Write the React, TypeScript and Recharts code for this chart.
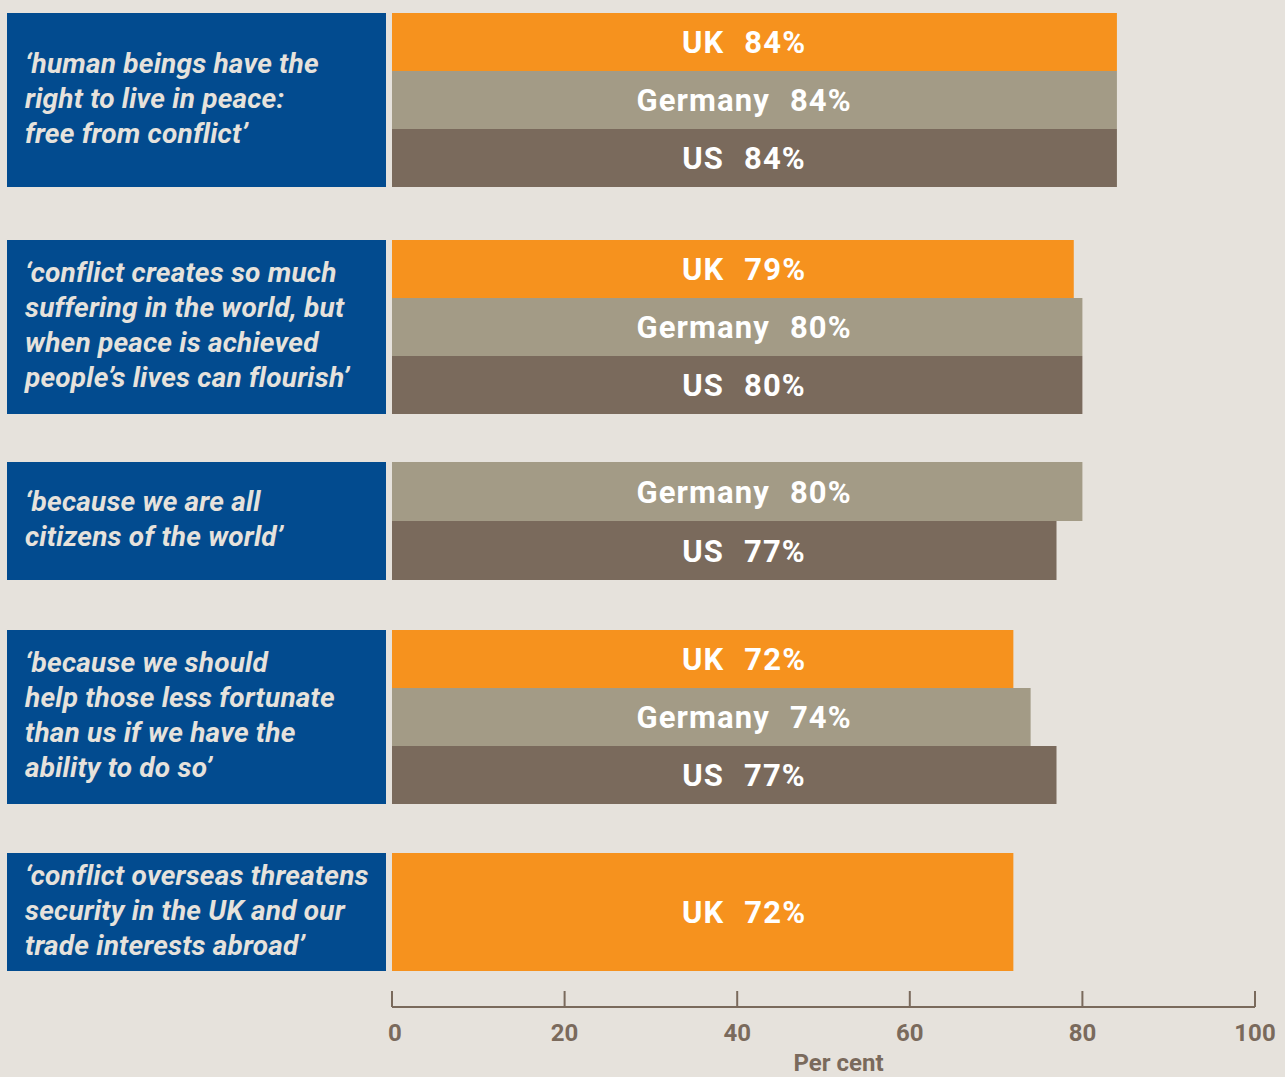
import React from "react";
import { Bar, BarChart, Cell, LabelList, XAxis, YAxis } from "recharts";

const statements = [
  "\u2018human beings have the\nright to live in peace:\nfree from conflict\u2019",
  "\u2018conflict creates so much\nsuffering in the world, but\nwhen peace is achieved\npeople\u2019s lives can flourish\u2019",
  "\u2018because we are all\ncitizens of the world\u2019",
  "\u2018because we should\nhelp those less fortunate\nthan us if we have the\nability to do so\u2019",
  "\u2018conflict overseas threatens\nsecurity in the UK and our\ntrade interests abroad\u2019",
];

const countries = ["UK", "Germany", "US"];
const ukValues = [84, 79, null, 72, 72];
const germanyValues = [84, 80, 80, 74, null];
const usValues = [84, 80, 77, 77, null];
const axisTicks = [0, 20, 40, 60, 80, 100];

const COLORS: Record<string, string> = {
  UK: "#f6921e",
  Germany: "#a39b86",
  US: "#7a6a5c",
};

const BG = "#e6e2dc";
const BLUE = "#024b8f";
const AXIS = "#7a6a5c";
const GROUP_TOPS = [13, 240, 462, 630, 853];
const CHART_W = 893;
const PLOT_RIGHT = 30;
const PLOT_W = CHART_W - PLOT_RIGHT;
const LABEL_AT = 40.8; // labels sit at a fixed spot on the scale
const FONT = "Roboto, 'DejaVu Sans', sans-serif";

const groups = statements.map((text, i) => {
  const series = [ukValues[i], germanyValues[i], usValues[i]];
  const rows = countries
    .map((c, j) => ({ name: c, value: series[j] }))
    .filter((r) => r.value !== null);
  return { text, rows };
});

const BarLabel = (props: any) => {
  const { x, y, height, index, data } = props;
  const row = data[index];
  const cx = x + (LABEL_AT / 100) * PLOT_W;
  return (
    <text
      x={cx}
      y={y + height / 2}
      textAnchor="middle"
      dominantBaseline="central"
      fill="#ffffff"
      fontFamily={FONT}
      fontWeight={700}
      fontSize={31}
      letterSpacing={1.1}
    >
      <tspan>{row.name}</tspan>
      <tspan dx={20}>{row.value}%</tspan>
    </text>
  );
};

const AxisTick = (props: any) => {
  const { x, y, payload } = props;
  return (
    <g>
      <line x1={x} x2={x} y1={y - 16} y2={y} stroke={AXIS} strokeWidth={2} />
      <text
        x={x + (payload.value === 0 ? 3 : 0)}
        y={y + 26}
        textAnchor="middle"
        dominantBaseline="central"
        fill={AXIS}
        fontFamily={FONT}
        fontWeight={700}
        fontSize={24}
      >
        {payload.value}
      </text>
    </g>
  );
};

const Group: React.FC<{ text: string; rows: { name: string; value: number | null }[]; top: number }> = ({
  text,
  rows,
  top,
}) => {
  const boxH = rows.length >= 3 ? 174 : 118;
  return (
    <div style={{ position: "absolute", left: 0, top, display: "flex", height: boxH }}>
      <div
        style={{
          marginLeft: 7,
          width: 379,
          height: boxH,
          background: BLUE,
          color: BG,
          fontFamily: FONT,
          fontStyle: "italic",
          fontWeight: 700,
          fontSize: 28,
          lineHeight: "35px",
          letterSpacing: 0.2,
          whiteSpace: "pre",
          display: "flex",
          alignItems: "center",
          paddingLeft: 18,
          paddingBottom: 4,
          boxSizing: "border-box",
        }}
      >
        {text}
      </div>
      <div style={{ marginLeft: 6 }}>
        <BarChart
          width={CHART_W}
          height={boxH}
          data={rows}
          layout="vertical"
          margin={{ top: 0, right: PLOT_RIGHT, bottom: 0, left: 0 }}
          barCategoryGap={0}
        >
          <XAxis type="number" domain={[0, 100]} hide />
          <YAxis type="category" dataKey="name" hide />
          <Bar dataKey="value" isAnimationActive={false}>
            {rows.map((r) => (
              <Cell key={r.name} fill={COLORS[r.name]} />
            ))}
            <LabelList dataKey="value" content={(p: any) => <BarLabel {...p} data={rows} />} />
          </Bar>
        </BarChart>
      </div>
    </div>
  );
};

export default function App() {
  return (
    <div
      style={{
        position: "absolute",
        left: 0,
        top: 0,
        width: 1285,
        height: 1077,
        background: BG,
        overflow: "hidden",
      }}
    >
      {groups.map((g, i) => (
        <Group key={i} text={g.text} rows={g.rows} top={GROUP_TOPS[i]} />
      ))}
      <div style={{ position: "absolute", left: 372, top: 971 }}>
        <BarChart
          width={CHART_W + 20}
          height={106}
          data={[{ name: "", value: 0 }]}
          layout="vertical"
          margin={{ top: 0, right: PLOT_RIGHT, bottom: 0, left: 20 }}
        >
          <XAxis
            type="number"
            domain={[0, 100]}
            ticks={axisTicks}
            height={70}
            tickLine={false}
            tickSize={0}
            tickMargin={0}
            axisLine={{ stroke: AXIS, strokeWidth: 2 }}
            tick={<AxisTick />}
            interval={0}
            label={{
              value: "Per cent",
              position: "insideBottom",
              offset: 0,
              dx: 15,
              dy: -6,
              fill: AXIS,
              fontFamily: FONT,
              fontWeight: 700,
              fontSize: 24,
            }}
          />
          <YAxis type="category" dataKey="name" hide />
          <Bar dataKey="value" fill="none" isAnimationActive={false} />
        </BarChart>
      </div>
    </div>
  );
}
